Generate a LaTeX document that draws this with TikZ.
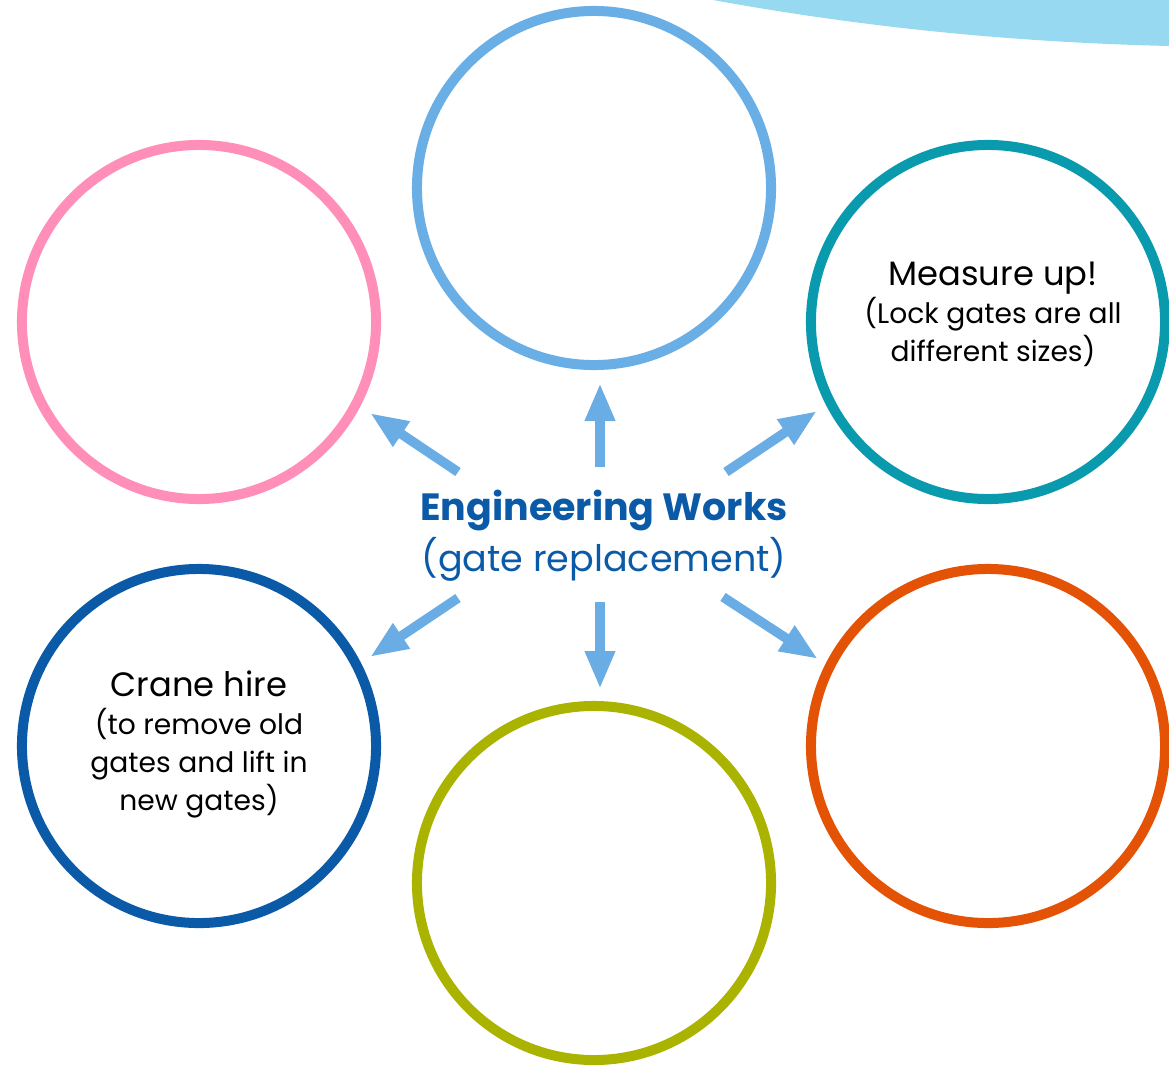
\documentclass[tikz,border=0pt]{standalone}
\usepackage{fontspec}
\setmainfont{Poppins}
\usetikzlibrary{arrows.meta}

\definecolor{skyblue}{HTML}{97D9F0}
\definecolor{lightblue}{HTML}{6AAEE6}
\definecolor{arrowblue}{HTML}{6AADE4}
\definecolor{pinkring}{HTML}{FF8FB8}
\definecolor{tealring}{HTML}{0A9AAD}
\definecolor{darkblue}{HTML}{0A5AA8}
\definecolor{orangering}{HTML}{E35205}
\definecolor{olivering}{HTML}{AAB400}

\newcommand{\headline}[1]{{\fontsize{24}{27}\selectfont #1}}

\begin{document}
\begin{tikzpicture}
        [x=0.025cm, y=-0.025cm,
        ring/.style={circle, draw, line width=0.25cm, minimum size=8.85cm, inner sep=0pt},
        ringtext/.style={align=center, font=\fontsize{20}{27}\selectfont},
        spoke/.style={arrowblue, line width=0.24cm, -{Triangle[width=0.7cm, length=0.95cm]}}]

        \useasboundingbox (0,0) rectangle (1169,1065);

        % corner swoosh
        \fill[skyblue] (713,0) .. controls (850,25) and (1000,42) .. (1169,46) -- (1169,0) -- cycle;

        \node[ring, draw=lightblue] (top) at (594, 188) {};
        \node[ring, draw=pinkring] (left) at (199, 322) {};
        \node[ring, draw=tealring] (measure) at (988, 322) {};
        \node[ring, draw=darkblue] (crane) at (199, 746) {};
        \node[ring, draw=orangering] (right) at (988, 746) {};
        \node[ring, draw=olivering] (bottom) at (594, 883) {};

        \node[ringtext] (measuretext) at (993, 314)
            {\headline{Measure up!}\\(Lock gates are all\\different sizes)};
        \node[ringtext] (cranetext) at (199, 744)
            {\headline{Crane hire}\\(to remove old\\gates and lift in\\new gates)};

        \node[align=center, text=darkblue, font=\fontsize{26}{36}\selectfont] (hub) at (604, 536)
            {{\fontsize{27}{36}\selectfont\textbf{Engineering Works}}\\(gate replacement)};

        \coordinate (upS) at (600, 467);   \coordinate (upE) at (600, 383);
        \coordinate (dnS) at (600, 602);   \coordinate (dnE) at (600, 689);
        \coordinate (ulS) at (458, 472);   \coordinate (ulE) at (370, 413);
        \coordinate (urS) at (726, 472);   \coordinate (urE) at (817, 411);
        \coordinate (llS) at (458, 598);   \coordinate (llE) at (370, 657);
        \coordinate (lrS) at (723, 597);   \coordinate (lrE) at (818, 659);

        \draw[spoke] (upS) -- (upE);
        \draw[spoke] (dnS) -- (dnE);
        \draw[spoke] (ulS) -- (ulE);
        \draw[spoke] (urS) -- (urE);
        \draw[spoke] (llS) -- (llE);
        \draw[spoke] (lrS) -- (lrE);

    \end{tikzpicture}
\end{document}
